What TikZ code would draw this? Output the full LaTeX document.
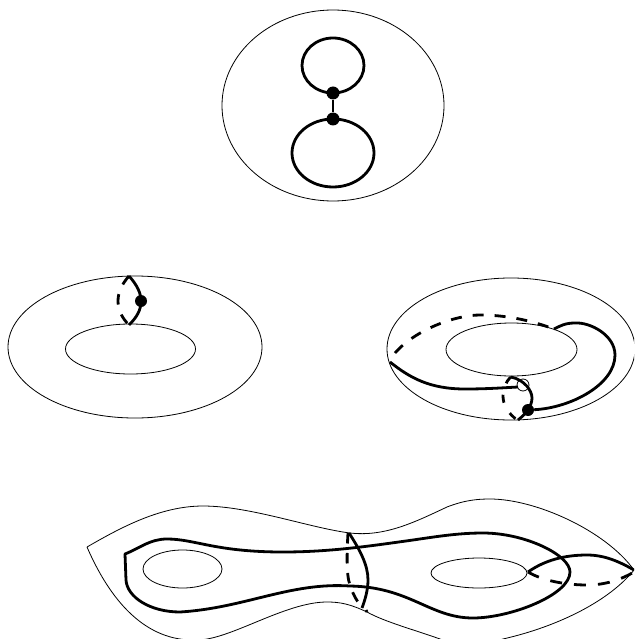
\documentclass[tikz,border=0pt]{standalone}
\tikzset{
  thinline/.style={line width=0.8pt,black},
  thickline/.style={line width=2.8pt,black,line join=round},
  dashline/.style={line width=2.8pt,black,dash pattern=on 11pt off 11pt},
  dotnode/.style={circle,fill=black,inner sep=0pt,minimum size=12pt},
}
\begin{document}
\begin{tikzpicture}[x=1pt,y=-1pt]
\clip (0,0) rectangle (634,639);
\useasboundingbox (0,0) rectangle (634,639);
% top figure
\draw[thinline] (333,105.5) ellipse [x radius=111,y radius=95.5];
\node[dotnode,minimum size=13pt] (a) at (333,93) {};
\node[dotnode,minimum size=13pt] (b) at (333,119) {};
\draw[thickline] (a) -- (b);
\draw[thickline] (333,65.5) ellipse [x radius=31,y radius=27.5];
\draw[thickline] (333,153) ellipse [x radius=41,y radius=34];
% left torus
\draw[thinline] (135,347) ellipse [x radius=127,y radius=71];
\draw[thinline] (130.5,349) ellipse [x radius=65,y radius=25];
\node[dotnode] (c) at (141,301) {};
\draw[thickline] (129,276) .. controls (137,285) and (141,293) .. (141,301) .. controls (141,310) and (137,317) .. (129,325);
\draw[dashline,dash pattern=on 10.5pt off 10.5pt] (129,276) .. controls (122,284) and (118,292) .. (118,301) .. controls (118,310) and (122,318) .. (129,325);
% right torus
\draw[thinline] (511,349) ellipse [x radius=124,y radius=71];
\draw[thinline] (511.5,349.5) ellipse [x radius=65.5,y radius=26.5];
\draw[thinline] (523,385) circle (6);
\node[dotnode] (d) at (528,410) {};
\draw[thickline] (511,377) .. controls (525,380) and (532,391) .. (532,398) .. controls (532,405) and (527,413) .. (518,420);
\draw[dashline,dash pattern=on 8pt off 12pt] (511,377) .. controls (505,382) and (503,390) .. (503,396) .. controls (503,405) and (508,413) .. (517,420);
\draw[thickline] (390,362) .. controls (410,378) and (430,389) .. (465,389) .. controls (485,389) and (500,388) .. (518,387);
\draw[thickline] (d) .. controls (570,408) and (615,385) .. (615,355) .. controls (615,335) and (590,322) .. (575,323) .. controls (565,323) and (560,326) .. (554,329);
\draw[dashline] (395,353) .. controls (415,330) and (455,315) .. (480,315) .. controls (505,315) and (530,320) .. (554,329);
% bottom surface
\draw[thinline] (87,547) .. controls (120,528) and (160,506) .. (203,506) .. controls (250,506) and (310,528) .. (350,533) .. controls (385,537) and (415,522) .. (447,507) .. controls (465,500) and (478,499) .. (490,499) .. controls (535,499) and (605,530) .. (634,570);
\draw[thinline] (634,570) .. controls (610,600) and (560,626) .. (503,639) .. controls (480,646) and (455,645) .. (440,639) .. controls (415,630) and (385,622) .. (367,612) .. controls (350,604) and (340,602) .. (327,602) .. controls (285,602) and (230,640) .. (197,640) .. controls (145,642) and (110,600) .. (87,547);
\draw[thinline] (182.5,569) ellipse [x radius=39.5,y radius=19];
\draw[thinline] (479,573) ellipse [x radius=48,y radius=15];
% long loop
\draw[thickline] (125,554) .. controls (140,548) and (150,539) .. (167,539) .. controls (195,539) and (215,552) .. (283,552) .. controls (330,552) and (370,546) .. (413,540) .. controls (440,536) and (460,533) .. (483,533) .. controls (525,533) and (570,555) .. (570,572) .. controls (570,595) and (510,618) .. (473,618) .. controls (430,618) and (410,587) .. (350,586) .. controls (290,582) and (245,608) .. (180,612) .. controls (150,612) and (127,597) .. (126,580) -- cycle;
% waist
\draw[thickline] (349,533) .. controls (360,550) and (368,565) .. (368,580) .. controls (368,590) and (365,600) .. (362,608);
\draw[dashline,dash pattern=on 10.5pt off 9.5pt] (348,533) .. controls (347,550) and (346,575) .. (350,585) .. controls (352,592) and (356,600) .. (361,606);
\draw[thickline] (366,610) -- (367,612);
% right handle
\draw[thickline] (528,572) .. controls (545,560) and (565,555) .. (587,555) .. controls (605,555) and (620,562) .. (634,570);
\draw[dashline,dash pattern=on 12pt off 12pt] (528,572) .. controls (545,582) and (570,585) .. (587,585) .. controls (605,585) and (620,580) .. (634,572);
\end{tikzpicture}
\end{document}
